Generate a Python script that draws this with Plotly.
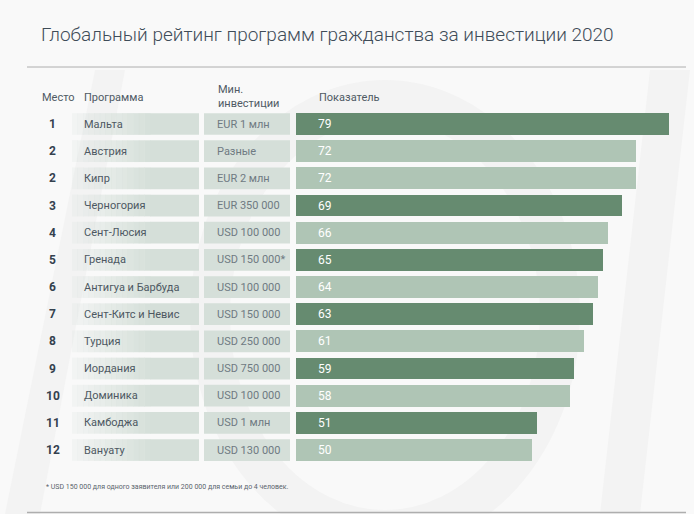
import plotly.graph_objects as go

# ---- data ----
ranks = ["1", "2", "2", "3", "4", "5", "6", "7", "8", "9", "10", "11", "12"]
programs = ["Мальта", "Австрия", "Кипр", "Черногория", "Сент-Люсия", "Гренада",
            "Антигуа и Барбуда", "Сент-Китс и Невис", "Турция", "Иордания",
            "Доминика", "Камбоджа", "Вануату"]
investments = ["EUR 1 млн", "Разные", "EUR 2 млн", "EUR 350 000", "USD 100 000",
               "USD 150 000*", "USD 100 000", "USD 150 000", "USD 250 000",
               "USD 750 000", "USD 100 000", "USD 1 млн", "USD 130 000"]
scores = [79, 72, 72, 69, 66, 65, 64, 63, 61, 59, 58, 51, 50]

title = "Глобальный рейтинг программ гражданства за инвестиции 2020"
headers = ["Место", "Программа", "Мин.<br>инвестиции", "Показатель"]
footnote = "* USD 150 000 для одного заявителя или 200 000 для семьи до 4 человек."

W, H = 694, 514
DARK = "#668B70"
LIGHT = "#AFC5B5"
CELL = "#D5DFD9"
BG = "#F9F9F9"
FONT = "Roboto"

rows = list(range(len(scores)))
colors = [DARK if int(r) % 2 == 1 else LIGHT for r in ranks]

ROW0 = 124.0
STEP = 27.17
BAR_X0 = 296
PX_PER_UNIT = 4.72
HALF = 0.40


def py(px):
    return 1 - px / H


def px_x(px):
    return px / W


fig = go.Figure()
fig.add_trace(go.Bar(
    x=scores, y=rows, orientation="h",
    marker=dict(color=colors, line=dict(width=0)),
    width=2 * HALF, hoverinfo="skip", showlegend=False,
))

shapes = []
# watermark shapes (very faint)
wm = "#F3F3F3"
shapes.append(dict(type="path", xref="paper", yref="paper", layer="below",
                   path=f"M {px_x(95)} {py(70)} L {px_x(125)} {py(70)} L {px_x(40)} {py(514)} L {px_x(5)} {py(514)} Z",
                   fillcolor=wm, line=dict(width=0)))
shapes.append(dict(type="path", xref="paper", yref="paper", layer="below",
                   path=f"M {px_x(650)} {py(70)} L {px_x(690)} {py(70)} L {px_x(640)} {py(514)} L {px_x(600)} {py(514)} Z",
                   fillcolor=wm, line=dict(width=0)))
shapes.append(dict(type="circle", xref="paper", yref="paper", layer="below",
                   x0=px_x(210), x1=px_x(560), y0=py(530), y1=py(100),
                   fillcolor="rgba(0,0,0,0)", line=dict(color=wm, width=40)))

for i in rows:
    y0, y1 = i - HALF, i + HALF
    # program cell with fade on left
    n = 14
    gx0, gx1 = 72, 150
    for k in range(n):
        a0 = gx0 + (gx1 - gx0) * k / n
        a1 = gx0 + (gx1 - gx0) * (k + 1) / n
        op = 0.15 + 0.85 * (k + 0.5) / n
        shapes.append(dict(type="rect", xref="paper", yref="y", layer="below",
                           x0=px_x(a0), x1=px_x(a1) + 0.0005, y0=y0, y1=y1,
                           fillcolor=CELL, opacity=op, line=dict(width=0)))
    shapes.append(dict(type="rect", xref="paper", yref="y", layer="below",
                       x0=px_x(gx1), x1=px_x(199), y0=y0, y1=y1,
                       fillcolor=CELL, line=dict(width=0)))
    # investment cell
    shapes.append(dict(type="rect", xref="paper", yref="y", layer="below",
                       x0=px_x(204), x1=px_x(290), y0=y0, y1=y1,
                       fillcolor=CELL, line=dict(width=0)))

# lines
shapes.append(dict(type="line", xref="paper", yref="paper", x0=px_x(27), x1=px_x(686),
                   y0=py(67), y1=py(67), line=dict(color="#AEAEAE", width=1)))
shapes.append(dict(type="line", xref="paper", yref="paper", x0=px_x(27), x1=px_x(686),
                   y0=py(512.5), y1=py(512.5), line=dict(color="#AEAEAE", width=1.5)))

ann = []
ann.append(dict(text=title, xref="paper", yref="paper", x=px_x(39), y=py(35),
                xanchor="left", yanchor="middle", showarrow=False,
                font=dict(family=FONT, size=19, color="#3F4C58", weight=300)))
hdr_x = [40, 82, 216, 317]
for h, hx in zip(headers, hdr_x):
    ann.append(dict(text=h, xref="paper", yref="paper", x=px_x(hx), y=py(97 if "<br>" not in h else 96),
                    xanchor="left", yanchor="middle", showarrow=False, align="left",
                    font=dict(family=FONT, size=11, color="#4F5A64")))
for i in rows:
    ann.append(dict(text=ranks[i], xref="paper", yref="y", x=px_x(53), y=i,
                    xanchor="center", yanchor="middle", showarrow=False,
                    font=dict(family=FONT, size=12, color="#34414E", weight="bold")))
    ann.append(dict(text=programs[i], xref="paper", yref="y", x=px_x(82), y=i,
                    xanchor="left", yanchor="middle", showarrow=False,
                    font=dict(family=FONT, size=11, color="#4D5862")))
    ann.append(dict(text=investments[i], xref="paper", yref="y", x=px_x(215), y=i,
                    xanchor="left", yanchor="middle", showarrow=False,
                    font=dict(family=FONT, size=11, color="#6F7A82")))
    ann.append(dict(text=str(scores[i]), xref="x", yref="y", x=0, xshift=20, y=i,
                    xanchor="left", yanchor="middle", showarrow=False,
                    font=dict(family=FONT, size=12, color="#FFFFFF")))
ann.append(dict(text=footnote, xref="paper", yref="paper", x=px_x(44), y=py(487),
                xanchor="left", yanchor="middle", showarrow=False,
                font=dict(family=FONT, size=7, color="#5A646C")))

fig.update_layout(
    width=W, height=H,
    margin=dict(l=0, r=0, t=0, b=0),
    paper_bgcolor=BG, plot_bgcolor="rgba(0,0,0,0)",
    xaxis=dict(domain=[BAR_X0 / W, 1], range=[0, (W - BAR_X0) / PX_PER_UNIT],
               visible=False, fixedrange=True),
    yaxis=dict(domain=[0, 1], range=[(H - ROW0) / STEP, -ROW0 / STEP],
               visible=False, fixedrange=True),
    shapes=shapes, annotations=ann, showlegend=False,
    bargap=0,
)

fig.write_html("out.html", config={"displayModeBar": False},
               post_script="document.body.style.margin='0';document.body.style.overflow='hidden';")
